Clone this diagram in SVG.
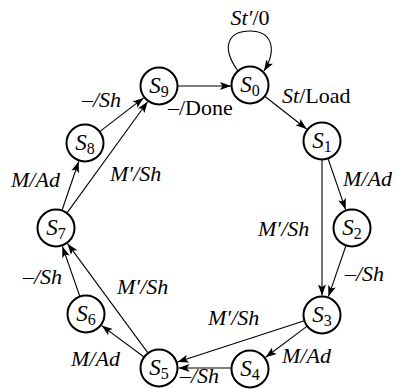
<svg xmlns="http://www.w3.org/2000/svg" width="397" height="389" viewBox="0 0 397 389">
<style>
.node circle{fill:#fff;stroke:#000;stroke-width:2}
.nl{font-family:"Liberation Serif",serif;font-size:23px;font-style:italic;text-anchor:middle}
.nl .sub{font-size:16px;font-style:normal}
#edges line,#edges path{stroke:#000;stroke-width:1.1;fill:none;marker-end:url(#ah)}
.lb{font-family:"Liberation Serif",serif;font-size:22px;font-style:italic}
.r{font-style:normal}
</style>
<defs>
<marker id="ah" markerUnits="userSpaceOnUse" markerWidth="12" markerHeight="8" refX="11" refY="4" orient="auto">
<path d="M0,0 L11,4 L0,8 L2.5,4 z" fill="#000"/>
</marker>
</defs>
<rect width="397" height="389" fill="#fff"/>
<g id="edges">
<path d="M238,71 C220,46 229,31 250,31 C271,31 278,48 264,71"/>
<line x1="178" y1="86" x2="231" y2="86"/>
<line x1="265" y1="96.5" x2="306.6" y2="129"/>
<line x1="328" y1="158.5" x2="345.6" y2="209.6"/>
<line x1="322" y1="159.5" x2="322" y2="295.5"/>
<line x1="346" y1="245.5" x2="328.4" y2="296.6"/>
<line x1="307.2" y1="326.1" x2="265.6" y2="357.3"/>
<line x1="304.4" y1="320.7" x2="177.5" y2="362"/>
<line x1="231" y1="368" x2="178.5" y2="368"/>
<line x1="143.7" y1="356.7" x2="101.7" y2="325.6"/>
<line x1="147.7" y1="352.7" x2="67.6" y2="243.7"/>
<line x1="79.7" y1="296" x2="62.4" y2="246.4"/>
<line x1="62.1" y1="210" x2="78.7" y2="161.5"/>
<line x1="67.2" y1="212.6" x2="147.6" y2="101.8"/>
<line x1="100" y1="131.4" x2="143.6" y2="97.9"/>
</g>
<g id="labels" class="lb">
<text x="250" y="25" text-anchor="middle">St′<tspan class="r">/0</tspan></text>
<text x="168" y="115" class="r">–/Done</text>
<text x="282" y="103">St<tspan class="r">/Load</tspan></text>
<text x="343" y="186">M/Ad</text>
<text x="258" y="236">M′/Sh</text>
<text x="345" y="281"><tspan class="r">–</tspan>/Sh</text>
<text x="282" y="363">M/Ad</text>
<text x="208" y="325">M′/Sh</text>
<text x="180" y="383"><tspan class="r">–</tspan>/Sh</text>
<text x="71" y="366">M/Ad</text>
<text x="117" y="294">M′/Sh</text>
<text x="23" y="284"><tspan class="r">–</tspan>/Sh</text>
<text x="11" y="187">M/Ad</text>
<text x="110" y="181">M′/Sh</text>
<text x="82" y="107"><tspan class="r">–</tspan>/Sh</text>
</g>
<g id="S0" class="node"><circle cx="250" cy="85" r="18.5"/><text class="nl" x="250" y="92">S<tspan class="sub" dy="4">0</tspan></text></g>
<g id="S1" class="node"><circle cx="322" cy="141" r="18.5"/><text class="nl" x="322" y="148">S<tspan class="sub" dy="4">1</tspan></text></g>
<g id="S2" class="node"><circle cx="352" cy="228" r="18.5"/><text class="nl" x="352" y="235">S<tspan class="sub" dy="4">2</tspan></text></g>
<g id="S3" class="node"><circle cx="322" cy="315" r="18.5"/><text class="nl" x="322" y="322">S<tspan class="sub" dy="4">3</tspan></text></g>
<g id="S4" class="node"><circle cx="250" cy="369" r="18.5"/><text class="nl" x="250" y="376">S<tspan class="sub" dy="4">4</tspan></text></g>
<g id="S5" class="node"><circle cx="159" cy="368" r="18.5"/><text class="nl" x="159" y="375">S<tspan class="sub" dy="4">5</tspan></text></g>
<g id="S6" class="node"><circle cx="86" cy="314" r="18.5"/><text class="nl" x="86" y="321">S<tspan class="sub" dy="4">6</tspan></text></g>
<g id="S7" class="node"><circle cx="56" cy="228" r="18.5"/><text class="nl" x="56" y="235">S<tspan class="sub" dy="4">7</tspan></text></g>
<g id="S8" class="node"><circle cx="85" cy="143" r="18.5"/><text class="nl" x="85" y="150">S<tspan class="sub" dy="4">8</tspan></text></g>
<g id="S9" class="node"><circle cx="159" cy="86" r="18.5"/><text class="nl" x="159" y="93">S<tspan class="sub" dy="4">9</tspan></text></g>
</svg>
